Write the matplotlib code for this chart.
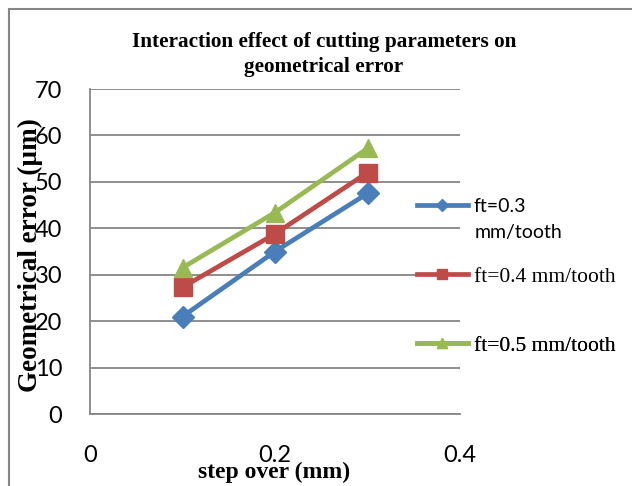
import matplotlib.pyplot as plt
from matplotlib.patches import Rectangle

# data
step_over = [0.1, 0.2, 0.3]
err_ft03 = [21.0, 35.0, 47.5]
err_ft04 = [27.3, 38.8, 52.0]
err_ft05 = [31.5, 43.4, 57.2]
labels = ["ft=0.3", "ft=0.4 mm/tooth", "ft=0.5 mm/tooth"]
y_ticks = [0, 10, 20, 30, 40, 50, 60, 70]
x_ticks = [0, 0.2, 0.4]

colors = ["#4A7EBB", "#BE4B48", "#98B954"]
markers = ["D", "s", "^"]
sizes = [11, 13, 13]
grey = "#868686"
W, H = 632, 486

fig = plt.figure(figsize=(W / 100, H / 100), dpi=100)
ax = fig.add_axes([90 / W, 1 - 414 / H, 370 / W, 325 / H])

lines = []
for ys, c, m, ms, lab in zip([err_ft03, err_ft04, err_ft05], colors, markers, sizes, labels):
    ln, = ax.plot(step_over, ys, color=c, marker=m, markersize=ms, linewidth=3.4,
                  markeredgecolor=c, label=lab)
    lines.append(ln)

ax.set_xlim(0, 0.4)
ax.set_ylim(0, 70)
ax.set_xticks(x_ticks)
ax.set_xticklabels(["0", "0.2", "0.4"])
ax.set_yticks(y_ticks)
ax.grid(axis="y", color=grey, linewidth=1.3)
ax.set_axisbelow(True)
for s in ["top", "right"]:
    ax.spines[s].set_visible(False)
for s in ["left", "bottom"]:
    ax.spines[s].set_color(grey)
    ax.spines[s].set_linewidth(1.3)
ax.tick_params(axis="both", length=0, labelsize=17)
ax.tick_params(axis="y", pad=20)
ax.tick_params(axis="x", pad=22)
for t in ax.get_xticklabels() + ax.get_yticklabels():
    t.set_fontfamily("Lato")

fig.text(324 / W, 1 - 54.5 / H, "Interaction effect of cutting parameters on\ngeometrical error",
         ha="center", va="center", family="Liberation Serif", weight="bold",
         fontsize=15.3, linespacing=1.38)
fig.text(30 / W, 1 - 255 / H, "Geometrical error (\u00b5m)", rotation=90, ha="center",
         va="center", family="Liberation Serif", weight="bold", fontsize=19.5)
fig.text(274 / W, 1 - 472 / H, "step over (mm)", ha="center", va="center",
         family="Liberation Serif", weight="bold", fontsize=17)

# one legend per entry so each sits where the reference has it
legend_y = [206, 277, 346]
for i, (ln, ly) in enumerate(zip(lines, legend_y)):
    fam = "Lato" if i == 0 else "Liberation Serif"
    fs = 14 if i == 0 else 15.5
    leg = ax.legend([ln], [ln.get_label()], loc="center left",
                    bbox_to_anchor=(417 / W, 1 - ly / H), bbox_transform=fig.transFigure,
                    frameon=False, borderpad=0, borderaxespad=0, handlelength=51 / (fs * 1.39),
                    handletextpad=0.3, markerscale=0.55, prop={"family": fam, "size": fs})
    ax.add_artist(leg)
fig.text(475 / W, 1 - 232 / H, "mm/tooth", ha="left", va="center", family="Lato", fontsize=14)

fig.patches.append(Rectangle((9 / W, -0.1), 1.2, 1.1 - 9 / H, fill=False,
                             edgecolor=grey, linewidth=1.5, transform=fig.transFigure))

fig.savefig("out.png", dpi=100)
